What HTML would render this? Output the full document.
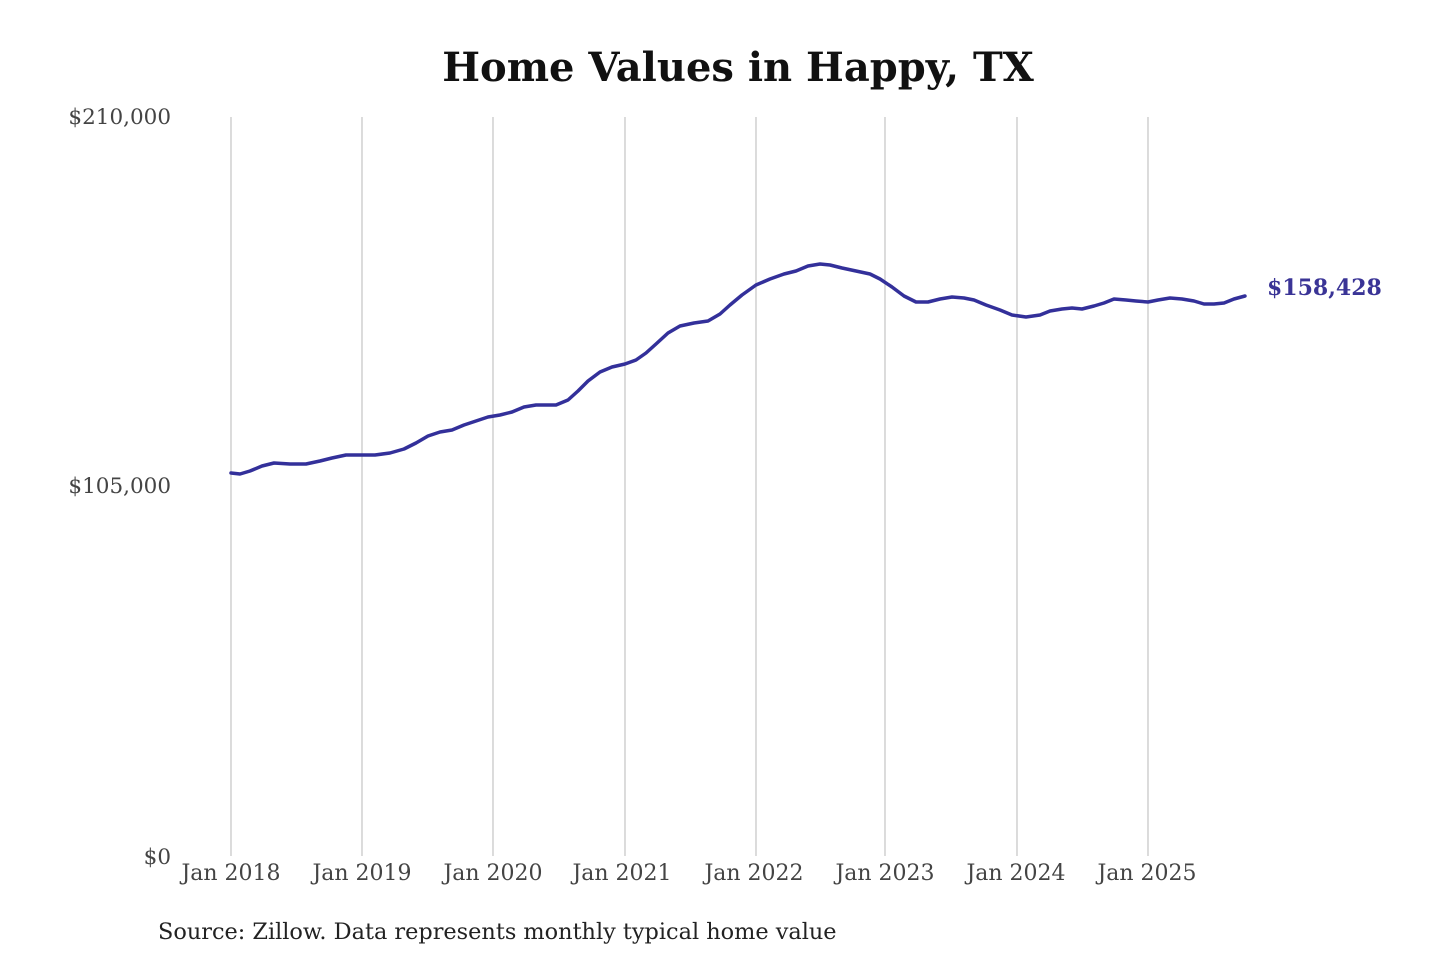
<!DOCTYPE html>
<html><head><meta charset="utf-8"><style>
html,body{margin:0;padding:0;background:#fff;}
svg{display:block;}
</style></head><body>
<svg width="1440" height="960" viewBox="0 0 1440 960" xmlns="http://www.w3.org/2000/svg" font-family="'DejaVu Serif','Liberation Serif',serif">
<rect width="1440" height="960" fill="#fff"/>
<text x="738" y="81" text-anchor="middle" font-size="40" font-weight="bold" fill="#111">Home Values in Happy, TX</text>
<g stroke="#c8c8c8" stroke-width="1.3">
<line x1="231" y1="117" x2="231" y2="856"/>
<line x1="362" y1="117" x2="362" y2="856"/>
<line x1="493" y1="117" x2="493" y2="856"/>
<line x1="625" y1="117" x2="625" y2="856"/>
<line x1="756" y1="117" x2="756" y2="856"/>
<line x1="885" y1="117" x2="885" y2="856"/>
<line x1="1017" y1="117" x2="1017" y2="856"/>
<line x1="1148" y1="117" x2="1148" y2="856"/>
</g>
<g font-size="21.5" fill="#444" text-anchor="end">
<text x="171" y="124">$210,000</text>
<text x="171" y="493">$105,000</text>
<text x="171" y="864">$0</text>
</g>
<g font-size="22" fill="#444" text-anchor="middle">
<text x="231" y="880">Jan 2018</text>
<text x="362" y="880">Jan 2019</text>
<text x="493" y="880">Jan 2020</text>
<text x="622" y="880">Jan 2021</text>
<text x="754" y="880">Jan 2022</text>
<text x="885" y="880">Jan 2023</text>
<text x="1016" y="880">Jan 2024</text>
<text x="1147" y="880">Jan 2025</text>
</g>
<polyline fill="none" stroke="#33309a" stroke-width="3.5" stroke-linejoin="round" stroke-linecap="round" points="231,473 240,474 250,471 262,466 274,463 290,464 306,464 320,461 332,458 346,455 360,455 375,455 390,453 404,449 416,443 428,436 440,432 452,430 464,425 476,421 488,417 500,415 512,412 524,407 536,405 556,405 568,400 578,391 588,381 600,372 612,367 625,364 636,360 646,353 656,344 668,333 680,326 694,323 708,321 720,314 730,305 742,295 756,285 770,279 784,274 796,271 808,266 820,264 830,265 842,268 856,271 870,274 880,279 892,287 904,296 916,302 928,302 940,299 952,297 964,298 974,300 986,305 1000,310 1012,315 1026,317 1040,315 1050,311 1062,309 1072,308 1082,309 1094,306 1104,303 1114,299 1126,300 1136,301 1148,302 1158,300 1170,298 1182,299 1194,301 1204,304 1214,304 1224,303 1234,299 1245,296"/>
<text x="1267" y="295" font-size="22" font-weight="bold" fill="#3a3496">$158,428</text>
<text x="158" y="939" font-size="22.4" fill="#222">Source: Zillow. Data represents monthly typical home value</text>
</svg>
</body></html>
